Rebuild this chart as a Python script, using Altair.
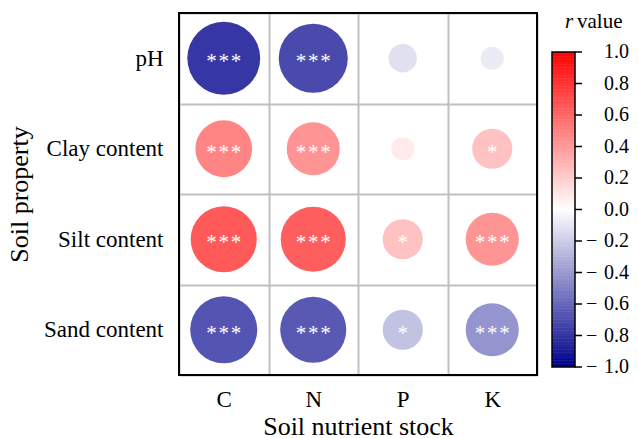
import altair as alt
import pandas as pd

properties = ["pH", "Clay content", "Silt content", "Sand content"]
nutrients = ["C", "N", "P", "K"]

r_pH = [-0.79, -0.71, -0.12, -0.08]
r_clay = [0.48, 0.42, 0.08, 0.24]
r_silt = [0.65, 0.63, 0.24, 0.42]
r_sand = [-0.67, -0.65, -0.24, -0.42]

sig_pH = ["***", "***", "", ""]
sig_clay = ["***", "***", "", "*"]
sig_silt = ["***", "***", "*", "***"]
sig_sand = ["***", "***", "*", "***"]

legend_values = [-1.0, -0.8, -0.6, -0.4, -0.2, 0.0, 0.2, 0.4, 0.6, 0.8, 1.0]
legend_labels = ["\u2212\u20041.0", "\u2212\u20040.8", "\u2212\u20040.6",
                 "\u2212\u20040.4", "\u2212\u20040.2", "0.0", "0.2", "0.4",
                 "0.6", "0.8", "1.0"]

rows = []
for prop, rs, sigs in zip(properties, [r_pH, r_clay, r_silt, r_sand],
                          [sig_pH, sig_clay, sig_silt, sig_sand]):
    for nut, r, s in zip(nutrients, rs, sigs):
        rows.append({"property": prop, "nutrient": nut, "r": r,
                     "absr": abs(r), "sig": "\u200a".join(list(s))})
df = pd.DataFrame(rows)

# colour-bar strips (legend only)
n_strips = 200
strip_df = pd.DataFrame({
    "lo": [-1 + i * 2 / n_strips for i in range(n_strips)],
    "hi": [min(-1 + (i + 1.3) * 2 / n_strips, 1.0) for i in range(n_strips)],
    "r": [-1 + (i + 0.5) * 2 / n_strips for i in range(n_strips)],
})
tick_df = pd.DataFrame({"v": legend_values, "label": legend_labels})

FONT = "Liberation Serif"
W, H = 358, 362
CB_X0, CB_X1 = 373, 396       # colour bar left / right (view coords)
CB_TOP, CB_BOT = 39, 354      # colour bar top / bottom (view coords)

color_scale = alt.Scale(domain=[-1, 0, 1],
                        range=["#00008c", "#ffffff", "#ff0000"],
                        interpolate="rgb")
cbar_scale = alt.Scale(domain=[-1, 1], range=[CB_BOT, CB_TOP], nice=False,
                       zero=False)

x_enc = alt.X("nutrient:N", sort=nutrients,
              scale=alt.Scale(paddingInner=0, paddingOuter=0),
              axis=alt.Axis(title="Soil nutrient stock", tickBand="extent",
                            grid=True, gridColor="#c0c0c0", gridWidth=2,
                            ticks=False, domain=False, labelAngle=0,
                            labelFont=FONT, labelFontSize=23, labelColor="black",
                            labelPadding=13, titleFont=FONT, titleFontSize=26,
                            titleFontWeight="normal", titleColor="black",
                            titlePadding=2))
y_enc = alt.Y("property:N", sort=properties,
              scale=alt.Scale(paddingInner=0, paddingOuter=0),
              axis=alt.Axis(title="Soil property", tickBand="extent",
                            grid=True, gridColor="#c0c0c0", gridWidth=2,
                            ticks=False, domain=False,
                            labelFont=FONT, labelFontSize=23, labelColor="black",
                            labelPadding=16, titleFont=FONT, titleFontSize=26,
                            titleFontWeight="normal", titleColor="black",
                            titlePadding=11))

base = alt.Chart(df).encode(x=x_enc, y=y_enc)

circles = base.mark_circle(opacity=1).encode(
    color=alt.Color("r:Q", scale=color_scale, legend=None),
    size=alt.Size("absr:Q", scale=alt.Scale(domain=[0, 1], range=[0, 6724]),
                  legend=None),
)

stars = base.mark_text(font=FONT, fontSize=21, color="white",
                       baseline="alphabetic", dy=10).encode(text="sig:N")

frame = alt.Chart(pd.DataFrame({"a": [0]})).mark_rect(
    fill="white", fillOpacity=0, stroke="black", strokeWidth=2
).encode(x=alt.value(0), x2=alt.value(W), y=alt.value(0), y2=alt.value(H))

main = alt.layer(circles, stars, frame)

strips = alt.Chart(strip_df).mark_rect().encode(
    x=alt.value(CB_X0), x2=alt.value(CB_X1),
    y=alt.Y("lo:Q", scale=cbar_scale, axis=None), y2="hi:Q",
    color=alt.Color("r:Q", scale=color_scale, legend=None),
)
border = alt.Chart(pd.DataFrame({"lo": [-1.0], "hi": [1.0]})).mark_rect(
    fill="white", fillOpacity=0, stroke="black", strokeWidth=1.5
).encode(
    x=alt.value(CB_X0), x2=alt.value(CB_X1),
    y=alt.Y("lo:Q", scale=cbar_scale, axis=None), y2="hi:Q",
)
ticks = alt.Chart(tick_df).mark_rule(color="black", strokeWidth=1.5).encode(
    x=alt.value(CB_X1), x2=alt.value(CB_X1 + 7),
    y=alt.Y("v:Q", scale=cbar_scale, axis=None),
)
labels = alt.Chart(tick_df).mark_text(
    font=FONT, fontSize=20, color="black", align="right", baseline="middle"
).encode(
    x=alt.value(450), y=alt.Y("v:Q", scale=cbar_scale, axis=None),
    text="label:N",
)

title_df = pd.DataFrame({"a": [0]})
title_r = alt.Chart(title_df).mark_text(
    font=FONT, fontSize=21, fontStyle="italic", align="left",
    baseline="alphabetic", color="black"
).encode(x=alt.value(386), y=alt.value(15), text=alt.value("r"))
title_v = alt.Chart(title_df).mark_text(
    font=FONT, fontSize=21, align="left", baseline="alphabetic", color="black"
).encode(x=alt.value(398), y=alt.value(15), text=alt.value("value"))

cbar = alt.layer(strips, border, ticks, labels)

chart = alt.layer(main, cbar, title_r, title_v).resolve_scale(
    y="independent"
).properties(
    width=W, height=H,
    autosize=alt.AutoSizeParams(type="none"),
    padding={"left": 171, "top": 5, "right": 93, "bottom": 63},
).configure(font=FONT).configure_view(stroke=None)

chart.save("out.html", embed_options={"renderer": "svg", "actions": False})
